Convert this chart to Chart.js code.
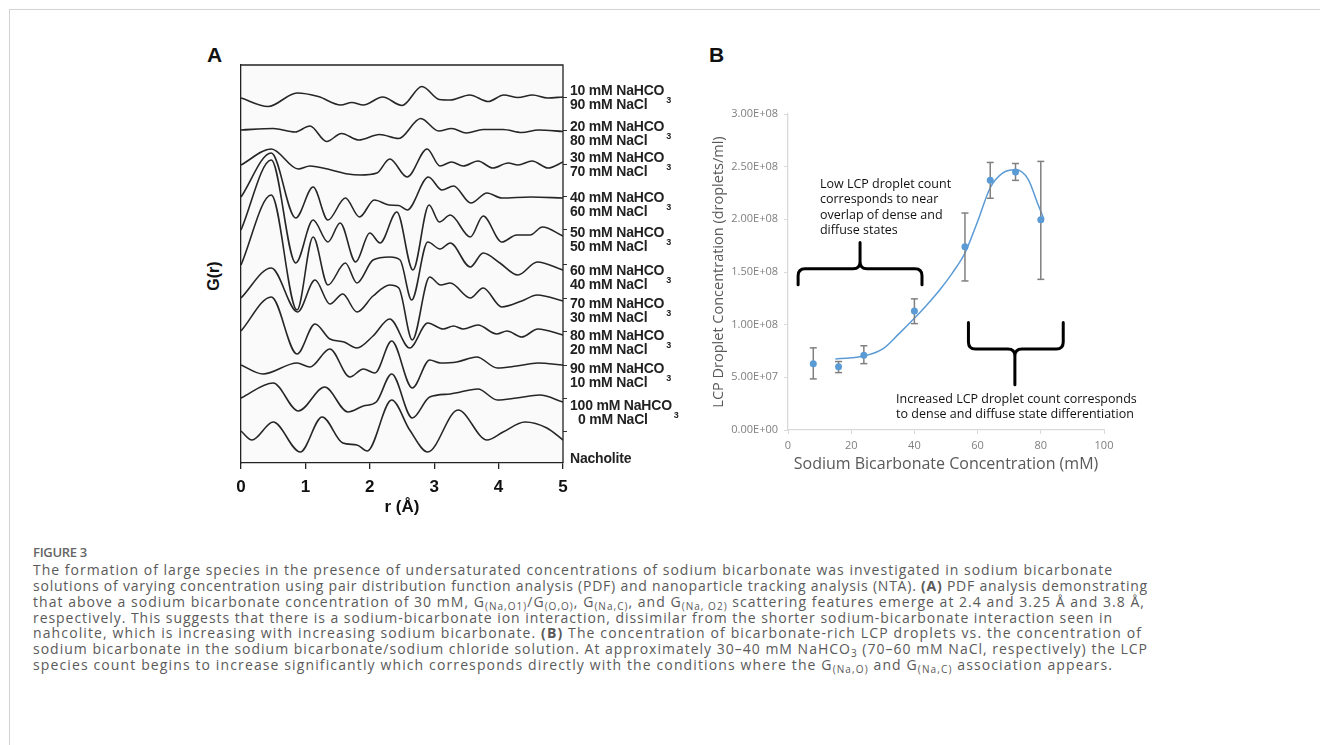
<!DOCTYPE html>
<html>
<head>
<meta charset="utf-8">
<script src="https://cdn.jsdelivr.net/npm/chart.js@4.4.1/dist/chart.umd.min.js"></script>
<style>
  html, body { margin: 0; padding: 0; background: #fff; }
  body { width: 1320px; height: 745px; position: relative; overflow: hidden; font-family: "Liberation Sans", Arial, sans-serif; }
  #frame { position: absolute; left: 9px; top: 9px; width: 1330px; height: 760px; border-top: 1px solid #d3d3d3; border-left: 1px solid #d3d3d3; }
  .panel { position: absolute; font-weight: bold; font-size: 21px; line-height: 21px; color: #111; }
  #gr { position: absolute; left: 194px; top: 266px; width: 40px; height: 20px; line-height: 20px; text-align: center; transform: rotate(-90deg); font-weight: bold; font-size: 16px; color: #111; }
  .lab { position: absolute; left: 570px; font-weight: bold; font-size: 14px; line-height: 12px; color: #222; white-space: nowrap; letter-spacing: -0.2px; }
  .lab .s3 { position: relative; top: 8px; font-size: 9px; margin-left: 2px; }
  .cap { position: absolute; left: 33px; font-family: "Open Sans", sans-serif; font-size: 14px; line-height: 16px; color: #5a5a5a; white-space: nowrap; }
  .cap sub { font-size: 10px; vertical-align: -3px; line-height: 0; }
  #fig { position: absolute; left: 33px; top: 544px; font-family: "Open Sans", sans-serif; font-size: 13px; line-height: 16px; color: #666; letter-spacing: -0.3px; font-weight: 600; }
  canvas { position: absolute; }
</style>
</head>
<body>
<div id="frame"></div>
<div class="panel" style="left:207px;top:44px;">A</div>
<div class="panel" style="left:709px;top:44px;">B</div>
<div id="gr">G(r)</div>
<canvas id="chartA" width="385" height="490" style="left:200px;top:40px;"></canvas>
<canvas id="chartB" width="470" height="400" style="left:700px;top:90px;"></canvas>
<div id="labels"></div>
<div id="fig">FIGURE 3</div>
<div id="caption"></div>

<script>
// ---------- panel A : PDF G(r) curves (r in Å, G relative to each curve's baseline) ----------
const pdfLabels = [
  ['10 mM NaHCO', '90 mM NaCl'], ['20 mM NaHCO', '80 mM NaCl'], ['30 mM NaHCO', '70 mM NaCl'],
  ['40 mM NaHCO', '60 mM NaCl'], ['50 mM NaHCO', '50 mM NaCl'], ['60 mM NaHCO', '40 mM NaCl'],
  ['70 mM NaHCO', '30 mM NaCl'], ['80 mM NaHCO', '20 mM NaCl'], ['90 mM NaHCO', '10 mM NaCl'],
  ['100 mM NaHCO', '0 mM NaCl'], ['Nacholite']
];
const pdfOffsets = [36.5, 33.3, 29.8, 26.6, 23.3, 19.8, 16.5, 13.2, 9.8, 6.5, 3.2];

const r_10 = [0, 0.42, 0.87, 1.2, 1.55, 1.72, 1.9, 2.2, 2.5, 2.81, 3.08, 3.25, 3.55, 3.84, 4.08, 4.3, 4.53, 4.76, 5.0];
const g_10 = [0, -0.85, 0.5, 0.15, -0.7, -0.45, -0.7, 0.1, -0.75, 1.15, -0.15, -0.2, 0.3, -0.35, 0.3, 0.05, 0.3, 0, 0.1];
const r_20 = [0, 0.5, 0.84, 1.07, 1.33, 1.56, 1.83, 2.15, 2.45, 2.79, 3.07, 3.27, 3.5, 3.76, 4.07, 4.36, 4.62, 5.0];
const g_20 = [0, 0.15, -0.2, 0.4, -1.15, -0.35, -1.0, -0.45, -0.85, 1.15, -0.1, 0.15, -0.3, 0.05, 0.05, -0.25, 0.0, -0.15];
const r_30 = [0, 0.47, 0.89, 1.07, 1.4, 1.66, 1.85, 2.11, 2.31, 2.58, 2.89, 3.09, 3.27, 3.45, 3.68, 3.91, 4.15, 4.3, 4.52, 4.77, 5.0];
const g_30 = [0, 1.6, -0.4, -0.1, -0.5, -0.9, -1.0, -0.8, 0.6, -1.2, 1.6, -0.1, 0.3, -0.1, 0.4, -0.3, 0.2, 0, 0.4, -0.3, 0.3];
const r_40 = [0, 0.47, 0.85, 1.12, 1.35, 1.62, 1.84, 2.07, 2.3, 2.45, 2.58, 2.91, 3.12, 3.3, 3.57, 3.82, 4.05, 4.5, 5.0];
const g_40 = [0, 4.4, -2.1, 1.0, -2.3, -0.1, -2.0, -0.3, -0.8, -0.85, -1.3, 2.0, 0.7, 1.1, -0.6, 0.4, -0.1, 0, -0.1];
const r_50 = [0, 0.47, 0.85, 1.12, 1.35, 1.54, 1.78, 2.0, 2.16, 2.42, 2.67, 2.92, 3.08, 3.25, 3.56, 3.76, 4.05, 4.28, 4.49, 4.68, 5.0];
const g_50 = [0, 7.0, -3.3, 1.0, -1.2, 0.7, -3.2, -0.3, -1.3, 1.8, -4.0, 2.5, 0.8, 1.5, -0.7, 1.4, -1.2, -0.5, -0.5, 0.3, -0.6];
const r_60 = [0, 0.47, 0.87, 1.12, 1.35, 1.62, 1.8, 2.05, 2.31, 2.47, 2.65, 2.9, 3.09, 3.25, 3.56, 3.76, 4.02, 4.3, 4.6, 5.0];
const g_60 = [0, 7.0, -4.5, 2.8, -2.0, 0.2, -1.8, 0.5, 0.8, 0.5, -3.5, 2.3, 1.6, 2.2, -0.2, 1.2, 0.2, -1.0, 0.3, -0.5];
const r_70 = [0, 0.47, 0.88, 1.15, 1.38, 1.58, 1.8, 2.05, 2.31, 2.45, 2.66, 2.93, 3.1, 3.25, 3.56, 3.76, 4.05, 4.36, 4.6, 5.0];
const g_70 = [0, 3.0, -1.4, 1.8, -0.6, 0.4, -1.4, 0.2, 1.3, 1.0, -4.2, 2.1, 1.3, 1.5, 0, 1.0, -0.9, -0.3, 0.3, -0.3];
const r_80 = [0, 0.47, 0.87, 1.15, 1.38, 1.6, 1.8, 2.05, 2.31, 2.62, 2.9, 3.14, 3.3, 3.45, 3.68, 3.97, 4.13, 4.36, 4.61, 5.0];
const g_80 = [0, 3.4, -2.3, 0.7, -0.8, -1.1, -1.7, -0.5, 1.2, -1.7, 0.8, 0.2, 0.5, 0.2, 0.6, -0.3, 0, -0.6, 0.2, -0.4];
const r_90 = [0, 0.34, 0.87, 1.07, 1.38, 1.69, 1.9, 2.08, 2.34, 2.66, 2.93, 3.1, 3.35, 3.66, 3.98, 4.28, 4.61, 5.0];
const g_90 = [0, -0.9, 0.2, -0.2, 1.6, -1.2, -0.4, -0.8, 2.4, -2.3, 0.5, 0.2, 0.3, 0.8, -0.3, -0.1, 0.2, 0];
const r_100 = [0, 0.5, 0.89, 1.3, 1.66, 1.9, 2.1, 2.34, 2.66, 2.93, 3.25, 3.68, 3.98, 4.28, 4.64, 5.0];
const g_100 = [0, 1.5, -1.3, 1.1, -1.4, -0.8, -0.4, 2.4, -2.0, 0.1, 0.4, 0.9, -0.2, 0, 0.3, -0.4];
const r_nach = [0, 0.17, 0.5, 0.92, 1.26, 1.58, 1.8, 1.96, 2.34, 2.62, 2.9, 3.37, 3.82, 4.07, 4.41, 4.75, 5.0];
const g_nach = [0, -0.9, 0.9, -2.1, 1.4, -1.2, -1.4, -2.0, 3.1, 0.1, -2.1, 2.1, -0.9, -0.1, 0.9, 0.3, -0.9];

const pdfR = [r_10, r_20, r_30, r_40, r_50, r_60, r_70, r_80, r_90, r_100, r_nach];
const pdfG = [g_10, g_20, g_30, g_40, g_50, g_60, g_70, g_80, g_90, g_100, g_nach];

// ---------- panel B : NTA droplet counts ----------
const conc = [8, 16, 24, 40, 56, 64, 72, 80];
const droplets = [6.3e7, 6.0e7, 7.1e7, 1.13e8, 1.74e8, 2.37e8, 2.45e8, 1.995e8];
const errLow = [4.85e7, 5.45e7, 6.3e7, 1.01e8, 1.415e8, 2.20e8, 2.37e8, 1.43e8];
const errHigh = [7.8e7, 6.5e7, 8.0e7, 1.245e8, 2.06e8, 2.54e8, 2.53e8, 2.55e8];
const trendX = [15, 20, 25, 30, 35, 40, 44, 48, 52, 56, 60, 64, 68, 72, 76, 79, 81];
const trendY = [6.75e7, 6.85e7, 7.1e7, 7.7e7, 9.1e7, 1.06e8, 1.19e8, 1.33e8, 1.49e8, 1.68e8, 1.98e8, 2.3e8, 2.44e8, 2.47e8, 2.38e8, 2.15e8, 2.0e8];

const noteLow = ['Low LCP droplet count', 'corresponds to near', 'overlap of dense and', 'diffuse states'];
const noteHigh = ['Increased LCP droplet count corresponds', 'to dense and diffuse state differentiation'];

// ---------- panel A chart ----------
const boxPlugin = {
  id: 'box',
  beforeDraw(chart) {
    const a = chart.chartArea, ctx = chart.ctx;
    ctx.save();
    ctx.fillStyle = '#fafafa';
    ctx.fillRect(a.left, a.top, a.right - a.left, a.bottom - a.top);
    ctx.restore();
  },
  afterDraw(chart) {
    const a = chart.chartArea, ctx = chart.ctx;
    ctx.save();
    ctx.strokeStyle = '#222';
    ctx.lineWidth = 1.3;
    ctx.beginPath();
    ctx.moveTo(a.left, a.top);
    ctx.lineTo(a.right, a.top);
    ctx.lineTo(a.right, a.bottom);
    ctx.stroke();
    ctx.restore();
  }
};

const boldFont = { family: '"Liberation Sans", Arial, sans-serif', size: 17, weight: 'bold' };

new Chart(document.getElementById('chartA'), {
  type: 'line',
  data: {
    datasets: pdfR.map((r, i) => ({
      data: r.map((v, j) => ({ x: v, y: pdfOffsets[i] + pdfG[i][j] })),
      borderColor: '#262626',
      borderWidth: 1.6,
      pointRadius: 0,
      fill: false,
      cubicInterpolationMode: 'monotone'
    }))
  },
  options: {
    responsive: false,
    animation: false,
    layout: { padding: { left: 0, top: 25, right: 18, bottom: 7 } },
    plugins: { legend: { display: false }, tooltip: { enabled: false } },
    scales: {
      x: {
        type: 'linear', min: 0, max: 5,
        ticks: { stepSize: 1, color: '#111', font: boldFont, padding: 8 },
        grid: { drawOnChartArea: false, drawTicks: true, tickLength: 6, color: '#222', lineWidth: 1.3 },
        border: { color: '#222', width: 1.3 },
        title: { display: true, text: 'r (Å)', color: '#111', font: boldFont, padding: { top: 0, bottom: 5 } },
        afterFit(s) { s.height = 60; }
      },
      y: {
        min: 0, max: 39.8,
        ticks: { display: false },
        grid: { display: false },
        border: { color: '#222', width: 1.3 },
        afterFit(s) { s.width = 41; }
      },
      y2: {
        position: 'right', min: 0, max: 39.8,
        ticks: { display: false },
        grid: { drawOnChartArea: false, drawTicks: true, tickLength: 4, color: '#333' },
        border: { display: false },
        afterBuildTicks(s) { s.ticks = pdfOffsets.map(v => ({ value: v })); },
        afterFit(s) { s.width = 4; }
      }
    }
  },
  plugins: [boxPlugin]
});

// curve labels on the right of panel A
const labelTop = [90, 126, 157, 197, 232, 270, 303, 335, 368, 405, 458];
const labBox = document.getElementById('labels');
pdfLabels.forEach((lines, i) => {
  const d = document.createElement('div');
  d.className = 'lab';
  d.style.top = (labelTop[i] - 6) + 'px';
  if (lines.length === 2) {
    const indent = lines[1].length < 10 ? 'padding-left:8px;' : '';
    d.innerHTML = lines[0] + '<span class="s3">3</span><br><span style="' + indent + '">' + lines[1] + '</span>';
  } else {
    d.textContent = lines[0];
  }
  labBox.appendChild(d);
});

// ---------- panel B chart ----------
function fmtE(v) {
  if (v === 0) return '0.00E+00';
  const e = Math.floor(Math.log10(v) + 1e-9);
  return (v / Math.pow(10, e)).toFixed(2) + 'E+' + String(e).padStart(2, '0');
}

const braceUp = { x0: 3.2, x1: 42.4, xm: 22.8, yEnd: 1.38e8, yBar: 1.53e8, yTip: 1.78e8 };
const braceDown = { x0: 57.1, x1: 87.1, xm: 71.8, yEnd: 1.02e8, yBar: 0.77e8, yTip: 0.43e8 };
const noteLowPos = { x: 10.1, y: 2.335e8, step: 1.48e7 };
const noteHighPos = { x: 34.2, y: 0.294e8, step: 1.42e7 };

function drawBrace(ctx, xs, ys, b) {
  const X0 = xs.getPixelForValue(b.x0), X1 = xs.getPixelForValue(b.x1), XM = xs.getPixelForValue(b.xm);
  const YE = ys.getPixelForValue(b.yEnd), YB = ys.getPixelForValue(b.yBar), YT = ys.getPixelForValue(b.yTip);
  const s = Math.sign(YE - YB), r = 7;
  ctx.beginPath();
  ctx.moveTo(X0, YE);
  ctx.lineTo(X0, YB + s * r);
  ctx.quadraticCurveTo(X0, YB, X0 + r, YB);
  ctx.lineTo(XM - r, YB);
  ctx.quadraticCurveTo(XM, YB, XM, YB - s * r);
  ctx.lineTo(XM, YT);
  ctx.moveTo(XM, YB - s * r);
  ctx.quadraticCurveTo(XM, YB, XM + r, YB);
  ctx.lineTo(X1 - r, YB);
  ctx.quadraticCurveTo(X1, YB, X1, YB + s * r);
  ctx.lineTo(X1, YE);
  ctx.stroke();
}

const notesPlugin = {
  id: 'notes',
  afterDraw(chart) {
    const ctx = chart.ctx, xs = chart.scales.x, ys = chart.scales.y;
    ctx.save();
    ctx.strokeStyle = '#000';
    ctx.lineWidth = 3;
    ctx.lineCap = 'round';
    drawBrace(ctx, xs, ys, braceUp);
    drawBrace(ctx, xs, ys, braceDown);
    ctx.fillStyle = '#111';
    ctx.font = '12.5px "Open Sans", sans-serif';
    ctx.textBaseline = 'middle';
    noteLow.forEach((t, i) => ctx.fillText(t, xs.getPixelForValue(noteLowPos.x), ys.getPixelForValue(noteLowPos.y - i * noteLowPos.step)));
    noteHigh.forEach((t, i) => ctx.fillText(t, xs.getPixelForValue(noteHighPos.x), ys.getPixelForValue(noteHighPos.y - i * noteHighPos.step)));
    ctx.restore();
  }
};

const grayTick = { family: '"Open Sans", sans-serif', size: 11 };

new Chart(document.getElementById('chartB'), {
  type: 'scatter',
  data: {
    datasets: [
      {
        type: 'scatter',
        data: conc.map((c, i) => ({ x: c, y: droplets[i] })),
        pointRadius: 3.5,
        pointBackgroundColor: '#5b9bd5',
        pointBorderWidth: 0,
        order: 0
      },
      {
        type: 'scatter',
        data: conc.flatMap((c, i) => [{ x: c, y: errLow[i] }, { x: c, y: errHigh[i] }]),
        pointStyle: 'line',
        pointRadius: 3.5,
        pointBorderColor: '#808080',
        pointBorderWidth: 1.5,
        order: 1
      },
      {
        type: 'line',
        data: conc.flatMap((c, i) => [{ x: c, y: errLow[i] }, { x: c, y: errHigh[i] }, { x: c, y: null }]),
        borderColor: '#808080',
        borderWidth: 1.5,
        pointRadius: 0,
        spanGaps: false,
        order: 2
      },
      {
        type: 'line',
        data: trendX.map((x, i) => ({ x: x, y: trendY[i] })),
        borderColor: '#5b9bd5',
        borderWidth: 1.5,
        pointRadius: 0,
        cubicInterpolationMode: 'monotone',
        order: 3
      }
    ]
  },
  options: {
    responsive: false,
    animation: false,
    layout: { padding: { left: 0, top: 24, right: 66, bottom: 0 } },
    plugins: { legend: { display: false }, tooltip: { enabled: false } },
    scales: {
      x: {
        type: 'linear', min: 0, max: 100,
        ticks: { stepSize: 20, color: '#7f7f7f', font: grayTick, padding: 5 },
        grid: { drawOnChartArea: false, drawTicks: true, tickLength: 4, color: '#d9d9d9' },
        border: { color: '#d9d9d9', width: 1.3 },
        title: { display: true, text: 'Sodium Bicarbonate Concentration (mM)', color: '#595959',
                 font: { family: '"Open Sans", sans-serif', size: 16 }, padding: { top: 0, bottom: 16 } },
        afterFit(s) { s.height = 60; }
      },
      y: {
        min: 0, max: 3e8,
        ticks: { stepSize: 5e7, color: '#7f7f7f', font: grayTick, padding: 6, callback: v => fmtE(v) },
        grid: { drawOnChartArea: false, drawTicks: true, tickLength: 4, color: '#d9d9d9' },
        border: { color: '#d9d9d9', width: 1.3 },
        title: { display: true, text: 'LCP Droplet Concentration (droplets/ml)', color: '#595959',
                 font: { family: '"Open Sans", sans-serif', size: 14.5 }, padding: { top: 10, bottom: 0 } },
        afterFit(s) { s.width = 88; }
      }
    }
  },
  plugins: [notesPlugin]
});

// ---------- caption ----------
const captionLines = [
  'The formation of large species in the presence of undersaturated concentrations of sodium bicarbonate was investigated in sodium bicarbonate',
  'solutions of varying concentration using pair distribution function analysis (PDF) and nanoparticle tracking analysis (NTA). <b>(A)</b> PDF analysis demonstrating',
  'that above a sodium bicarbonate concentration of 30 mM, G<sub>(Na,O1)</sub>/G<sub>(O,O)</sub>, G<sub>(Na,C)</sub>, and G<sub>(Na, O2)</sub> scattering features emerge at 2.4 and 3.25 Å and 3.8 Å,',
  'respectively. This suggests that there is a sodium-bicarbonate ion interaction, dissimilar from the shorter sodium-bicarbonate interaction seen in',
  'nahcolite, which is increasing with increasing sodium bicarbonate. <b>(B)</b> The concentration of bicarbonate-rich LCP droplets vs. the concentration of',
  'sodium bicarbonate in the sodium bicarbonate/sodium chloride solution. At approximately 30–40 mM NaHCO<sub>3</sub> (70–60 mM NaCl, respectively) the LCP',
  'species count begins to increase significantly which corresponds directly with the conditions where the G<sub>(Na,O)</sub> and G<sub>(Na,C)</sub> association appears.'
];
const captionWidth = [1080, 1115, 1112, 1080, 1109, 1115, 1080];
const capBox = document.getElementById('caption');
captionLines.forEach((html, i) => {
  const d = document.createElement('div');
  d.className = 'cap';
  d.style.top = (562 + i * 15.85) + 'px';
  d.innerHTML = html;
  capBox.appendChild(d);
  const natural = d.getBoundingClientRect().width;
  const n = d.textContent.length;
  d.style.letterSpacing = ((captionWidth[i] - natural) / n).toFixed(3) + 'px';
});
</script>
</body>
</html>
